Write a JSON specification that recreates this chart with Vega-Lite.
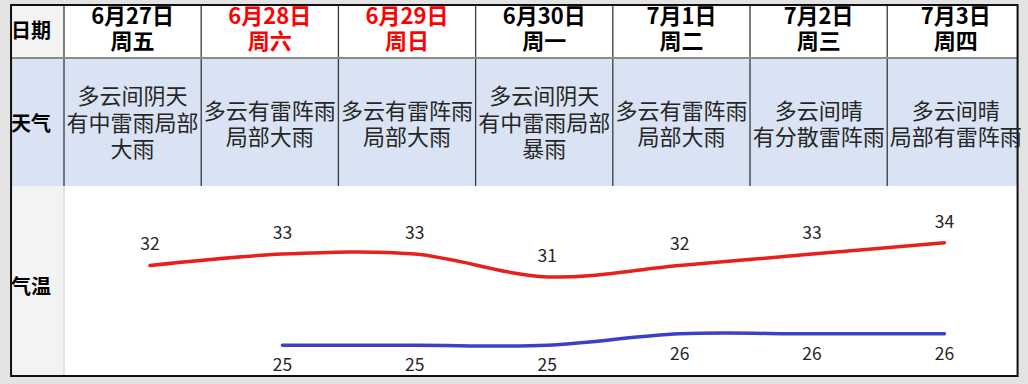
{
  "$schema": "https://vega.github.io/schema/vega-lite/v6.json",
  "width": 1028,
  "height": 384,
  "autosize": {"type": "fit", "contains": "padding"},
  "padding": 0,
  "background": "#e3e3e3",
  "config": {"view": {"stroke": null}, "font": "Noto Sans CJK SC", "text": {"font": "Noto Sans CJK SC"}},
  "datasets": {
    "days": [
      {"c": 0, "date": "6月27日", "wd": "周五", "wk": "weekday", "n": 3, "weather": "多云间阴天\n有中雷雨局部\n大雨"},
      {"c": 1, "date": "6月28日", "wd": "周六", "wk": "weekend", "n": 2, "weather": "多云有雷阵雨\n局部大雨"},
      {"c": 2, "date": "6月29日", "wd": "周日", "wk": "weekend", "n": 2, "weather": "多云有雷阵雨\n局部大雨"},
      {"c": 3, "date": "6月30日", "wd": "周一", "wk": "weekday", "n": 3, "weather": "多云间阴天\n有中雷雨局部\n暴雨"},
      {"c": 4, "date": "7月1日", "wd": "周二", "wk": "weekday", "n": 2, "weather": "多云有雷阵雨\n局部大雨"},
      {"c": 5, "date": "7月2日", "wd": "周三", "wk": "weekday", "n": 2, "weather": "多云间晴\n有分散雷阵雨"},
      {"c": 6, "date": "7月3日", "wd": "周四", "wk": "weekday", "n": 2, "weather": "多云间晴\n局部有雷阵雨"}
    ],
    "bands": [
      {"zone": "base", "x0": -0.886, "x1": 6.45, "y0": 0, "y1": 7},
      {"zone": "weather", "x0": -0.886, "x1": 6.45, "y0": 1, "y1": 3.415},
      {"zone": "label", "x0": -0.886, "x1": -0.5, "y0": 0, "y1": 1},
      {"zone": "label", "x0": -0.886, "x1": -0.5, "y0": 3.415, "y1": 7}
    ],
    "grid": [
      {"b": -0.5, "y0": 0, "y1": 3.415, "kind": "dark"},
      {"b": 0.5, "y0": 0, "y1": 3.415, "kind": "dark"},
      {"b": 1.5, "y0": 0, "y1": 3.415, "kind": "dark"},
      {"b": 2.5, "y0": 0, "y1": 3.415, "kind": "dark"},
      {"b": 3.5, "y0": 0, "y1": 3.415, "kind": "dark"},
      {"b": 4.5, "y0": 0, "y1": 3.415, "kind": "dark"},
      {"b": 5.5, "y0": 0, "y1": 3.415, "kind": "dark"},
      {"b": -0.5, "y0": 3.415, "y1": 7, "kind": "light"}
    ],
    "labels": [
      {"name": "日期", "r": 0.51},
      {"name": "天气", "r": 2.26},
      {"name": "气温", "r": 5.34}
    ],
    "temps": [
      {"i": 0, "series": "high", "t": 32},
      {"i": 1, "series": "high", "t": 33},
      {"i": 2, "series": "high", "t": 33},
      {"i": 3, "series": "high", "t": 31},
      {"i": 4, "series": "high", "t": 32},
      {"i": 5, "series": "high", "t": 33},
      {"i": 6, "series": "high", "t": 34},
      {"i": 1, "series": "low", "t": 25},
      {"i": 2, "series": "low", "t": 25},
      {"i": 3, "series": "low", "t": 25},
      {"i": 4, "series": "low", "t": 26},
      {"i": 5, "series": "low", "t": 26},
      {"i": 6, "series": "low", "t": 26}
    ]
  },
  "layer": [
    {
      "layer": [
        {
          "data": {"name": "bands"},
          "mark": {"type": "rect"},
          "encoding": {
            "x": {"field": "x0", "type": "quantitative", "scale": {"domain": [-0.9665, 6.526], "nice": false, "zero": false}, "axis": null},
            "x2": {"field": "x1"},
            "y": {"field": "y0", "type": "quantitative", "scale": {"domain": [-0.0943, 7.151], "reverse": true, "nice": false, "zero": false}, "axis": null},
            "y2": {"field": "y1"},
            "fill": {"field": "zone", "type": "nominal", "scale": {"domain": ["base", "weather", "label"], "range": ["#ffffff", "#dae3f3", "#f3f3f3"]}, "legend": null}
          }
        },
        {
          "data": {"name": "grid"},
          "mark": {"type": "rule", "strokeWidth": 1.3},
          "encoding": {
            "x": {"field": "b", "type": "quantitative", "scale": {"domain": [-0.9665, 6.526], "nice": false, "zero": false}, "axis": null},
            "y": {"field": "y0", "type": "quantitative", "scale": {"domain": [-0.0943, 7.151], "reverse": true, "nice": false, "zero": false}, "axis": null},
            "y2": {"field": "y1"},
            "stroke": {"field": "kind", "type": "nominal", "scale": {"domain": ["dark", "light"], "range": ["#3a3a3a", "#d6d6d6"]}, "legend": null}
          }
        },
        {
          "data": {"values": [{"k": 1}]},
          "mark": {"type": "rule", "strokeWidth": 2, "color": "#8c8c8c"},
          "encoding": {
            "x": {"datum": -0.886, "type": "quantitative", "scale": {"domain": [-0.9665, 6.526], "nice": false, "zero": false}, "axis": null},
            "x2": {"datum": 6.45},
            "y": {"datum": 1, "type": "quantitative", "scale": {"domain": [-0.0943, 7.151], "reverse": true, "nice": false, "zero": false}, "axis": null}
          }
        },
        {
          "data": {"values": [{"k": 1}]},
          "mark": {"type": "rect", "fill": null, "fillOpacity": 0, "stroke": "#111111", "strokeWidth": 2},
          "encoding": {
            "x": {"datum": -0.886, "type": "quantitative", "scale": {"domain": [-0.9665, 6.526], "nice": false, "zero": false}, "axis": null},
            "x2": {"datum": 6.45},
            "y": {"datum": 0, "type": "quantitative", "scale": {"domain": [-0.0943, 7.151], "reverse": true, "nice": false, "zero": false}, "axis": null},
            "y2": {"datum": 7}
          }
        },
        {
          "data": {"name": "days"},
          "mark": {"type": "text", "fontSize": 22, "fontWeight": "bold", "align": "center", "baseline": "middle"},
          "encoding": {
            "x": {"field": "c", "type": "quantitative", "scale": {"domain": [-0.9665, 6.526], "nice": false, "zero": false}, "axis": null},
            "y": {"datum": 0.235, "type": "quantitative", "scale": {"domain": [-0.0943, 7.151], "reverse": true, "nice": false, "zero": false}, "axis": null},
            "text": {"field": "date", "type": "nominal"},
            "color": {"field": "wk", "type": "nominal", "scale": {"domain": ["weekday", "weekend"], "range": ["#000000", "#ff0000"]}, "legend": null}
          }
        },
        {
          "data": {"name": "days"},
          "mark": {"type": "text", "fontSize": 22, "fontWeight": "bold", "align": "center", "baseline": "middle"},
          "encoding": {
            "x": {"field": "c", "type": "quantitative", "scale": {"domain": [-0.9665, 6.526], "nice": false, "zero": false}, "axis": null},
            "y": {"datum": 0.7, "type": "quantitative", "scale": {"domain": [-0.0943, 7.151], "reverse": true, "nice": false, "zero": false}, "axis": null},
            "text": {"field": "wd", "type": "nominal"},
            "color": {"field": "wk", "type": "nominal", "scale": {"domain": ["weekday", "weekend"], "range": ["#000000", "#ff0000"]}, "legend": null}
          }
        },
        {
          "data": {"name": "days"},
          "transform": [{"filter": "datum.n === 3"}],
          "mark": {"type": "text", "lineBreak": "\n", "fontSize": 22, "lineHeight": 26.3, "align": "center", "baseline": "middle", "color": "#262626"},
          "encoding": {
            "x": {"field": "c", "type": "quantitative", "scale": {"domain": [-0.9665, 6.526], "nice": false, "zero": false}, "axis": null},
            "y": {"datum": 1.745, "type": "quantitative", "scale": {"domain": [-0.0943, 7.151], "reverse": true, "nice": false, "zero": false}, "axis": null},
            "text": {"field": "weather", "type": "nominal"}
          }
        },
        {
          "data": {"name": "days"},
          "transform": [{"filter": "datum.n === 2"}],
          "mark": {"type": "text", "lineBreak": "\n", "fontSize": 22, "lineHeight": 26, "align": "center", "baseline": "middle", "color": "#262626"},
          "encoding": {
            "x": {"field": "c", "type": "quantitative", "scale": {"domain": [-0.9665, 6.526], "nice": false, "zero": false}, "axis": null},
            "y": {"datum": 2.02, "type": "quantitative", "scale": {"domain": [-0.0943, 7.151], "reverse": true, "nice": false, "zero": false}, "axis": null},
            "text": {"field": "weather", "type": "nominal"}
          }
        },
        {
          "data": {"name": "labels"},
          "mark": {"type": "text", "fontSize": 20, "fontWeight": "bold", "align": "left", "baseline": "middle", "color": "#000000", "dx": 0},
          "encoding": {
            "x": {"datum": -0.886, "type": "quantitative", "scale": {"domain": [-0.9665, 6.526], "nice": false, "zero": false}, "axis": null},
            "y": {"field": "r", "type": "quantitative", "scale": {"domain": [-0.0943, 7.151], "reverse": true, "nice": false, "zero": false}, "axis": null},
            "text": {"field": "name", "type": "nominal"}
          }
        }
      ]
    },
    {
      "data": {"name": "temps"},
      "layer": [
        {
          "mark": {"type": "line", "strokeWidth": 3.5, "interpolate": "catmull-rom", "strokeCap": "round"},
          "encoding": {
            "x": {"field": "i", "type": "quantitative", "scale": {"domain": [-1.133, 6.631], "nice": false, "zero": false}, "axis": null},
            "y": {"field": "t", "type": "quantitative", "scale": {"domain": [21.6, 55.3], "nice": false, "zero": false}, "axis": null},
            "color": {"field": "series", "type": "nominal", "scale": {"domain": ["high", "low"], "range": ["#e8201c", "#3c40c8"]}, "legend": null}
          }
        },
        {
          "transform": [{"filter": "datum.series === 'high'"}],
          "mark": {"type": "text", "fontSize": 17.5, "dy": -20, "align": "center", "baseline": "middle", "color": "#262626"},
          "encoding": {
            "x": {"field": "i", "type": "quantitative", "scale": {"domain": [-1.133, 6.631], "nice": false, "zero": false}, "axis": null},
            "y": {"field": "t", "type": "quantitative", "scale": {"domain": [21.6, 55.3], "nice": false, "zero": false}, "axis": null},
            "text": {"field": "t", "type": "quantitative"}
          }
        },
        {
          "transform": [{"filter": "datum.series === 'low'"}],
          "mark": {"type": "text", "fontSize": 17.5, "dy": 21, "align": "center", "baseline": "middle", "color": "#262626"},
          "encoding": {
            "x": {"field": "i", "type": "quantitative", "scale": {"domain": [-1.133, 6.631], "nice": false, "zero": false}, "axis": null},
            "y": {"field": "t", "type": "quantitative", "scale": {"domain": [21.6, 55.3], "nice": false, "zero": false}, "axis": null},
            "text": {"field": "t", "type": "quantitative"}
          }
        }
      ]
    }
  ],
  "resolve": {"scale": {"x": "independent", "y": "independent", "color": "independent"}}
}
